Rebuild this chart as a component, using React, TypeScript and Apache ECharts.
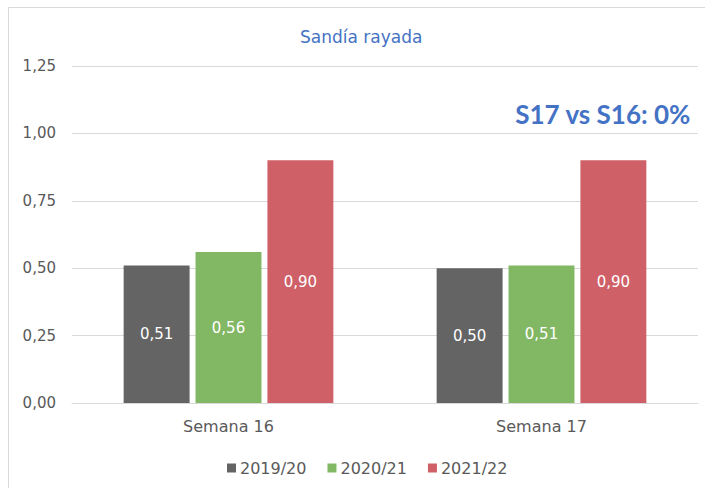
import React, { useEffect, useRef } from "react";
import * as echarts from "echarts";

const categories = ["Semana 16", "Semana 17"];
const seriesNames = ["2019/20", "2020/21", "2021/22"];
const values2019 = [0.51, 0.5];
const values2020 = [0.56, 0.51];
const values2021 = [0.9, 0.9];
const colors = ["#646464", "#82b864", "#cf6067"];
const yTicks = { min: 0, max: 1.25, interval: 0.25 };
const titleText = "Sandía rayada";
const noteText = "S17 vs S16: 0%";

const FONT = "'DejaVu Sans', sans-serif";

export default function App() {
  const ref = useRef<HTMLDivElement>(null);
  useEffect(() => {
    if (!ref.current) return;
    const chart = echarts.init(ref.current, null, { renderer: "svg" });
    const data = [values2019, values2020, values2021];
    chart.setOption({
      animation: false,
      backgroundColor: "#ffffff",
      textStyle: { fontFamily: FONT },
      title: {
        text: titleText,
        left: 295,
        top: 23,
        textStyle: { color: "#4472c4", fontSize: 17, fontWeight: "normal", fontFamily: FONT },
      },
      graphic: [
        { type: "line", shape: { x1: 8.5, y1: 7.5, x2: 8.5, y2: 488 }, style: { stroke: "#d9d9d9", lineWidth: 1 } },
        { type: "line", shape: { x1: 8.5, y1: 7.5, x2: 705, y2: 7.5 }, style: { stroke: "#d9d9d9", lineWidth: 1 } },
        {
          type: "text",
          right: 14,
          top: 101,
          style: { text: noteText, fill: "#4472c4", fontSize: 26, fontWeight: "bold", fontFamily: "Lato, sans-serif" },
        },
      ],
      legend: {
        data: seriesNames,
        left: 222,
        top: 455,
        itemWidth: 9,
        itemHeight: 9,
        itemGap: 21,
        icon: "rect",
        textStyle: { color: "#595959", fontSize: 16, fontFamily: FONT, padding: [0, 0, 0, -1] },
      },
      grid: { left: 72, right: 7, top: 66, bottom: 85, containLabel: false },
      xAxis: {
        type: "category",
        data: categories,
        axisLine: { lineStyle: { color: "#d9d9d9", width: 1 } },
        axisTick: { show: false },
        axisLabel: { color: "#595959", fontSize: 16, margin: 15, fontFamily: FONT },
      },
      yAxis: {
        type: "value",
        min: yTicks.min,
        max: yTicks.max,
        interval: yTicks.interval,
        axisLine: { show: false },
        axisTick: { show: false },
        splitLine: { lineStyle: { color: "#d9d9d9", width: 1 } },
        axisLabel: {
          color: "#595959",
          fontSize: 15,
          margin: 16,
          fontFamily: FONT,
          formatter: (v: number) => v.toFixed(2).replace(".", ","),
        },
      },
      series: seriesNames.map((name, i) => ({
        name,
        type: "bar",
        data: data[i],
        barCategoryGap: "33%",
        barGap: "9%",
        itemStyle: { color: colors[i] },
        label: {
          show: true,
          position: "inside",
          color: "#ffffff",
          fontSize: 15,
          fontFamily: FONT,
          formatter: (p: any) => Number(p.value).toFixed(2).replace(".", ","),
        },
      })),
    });
    return () => chart.dispose();
  }, []);
  return (
    <div
      ref={ref}
      style={{ position: "fixed", left: 0, top: 0, width: 705, height: 488 }}
    />
  );
}
